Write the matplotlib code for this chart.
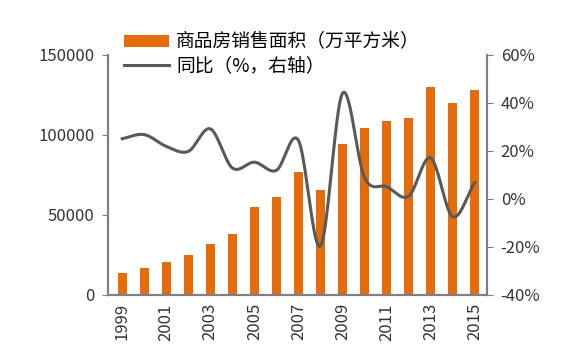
import matplotlib
matplotlib.use('Agg')
import matplotlib.pyplot as plt
import numpy as np

plt.rcParams['font.family'] = ['Noto Sans CJK SC', 'DejaVu Sans']

years = list(range(1999, 2016))
area = [13600, 16900, 20600, 25000, 31900, 38100, 55000, 61300, 76900,
        65600, 94400, 104400, 108900, 110600, 130000, 120000, 128100]
yoy = [25.1, 26.8, 21.9, 19.8, 29.2, 12.9, 15.3, 11.9, 24.4,
       -19.7, 44.0, 8.9, 5.1, 1.1, 17.1, -7.4, 6.8]
xticklabels = [str(y) for y in years[::2]]

bar_label = '商品房销售面积（万平方米）'
line_label = '同比（%，右轴）'


def smooth(x, y, n=20):
    # catmull-rom curve through the points, like excel's smoothed line
    x = np.asarray(x, float)
    y = np.asarray(y, float)
    px = np.concatenate([[2 * x[0] - x[1]], x, [2 * x[-1] - x[-2]]])
    py = np.concatenate([[2 * y[0] - y[1]], y, [2 * y[-1] - y[-2]]])
    xs, ys = [], []
    t = np.linspace(0, 1, n, endpoint=False)
    for i in range(1, len(px) - 2):
        for p, out in ((px, xs), (py, ys)):
            p0, p1, p2, p3 = p[i - 1], p[i], p[i + 1], p[i + 2]
            out.extend(0.5 * (2 * p1 + (-p0 + p2) * t
                              + (2 * p0 - 5 * p1 + 4 * p2 - p3) * t ** 2
                              + (-p0 + 3 * p1 - 3 * p2 + p3) * t ** 3))
    xs.append(x[-1])
    ys.append(y[-1])
    return np.array(xs), np.array(ys)


fig = plt.figure(figsize=(5.7, 3.64), dpi=100)
ax = fig.add_axes([0.19, 0.19, 0.664, 0.659])
ax2 = ax.twinx()

b = ax.bar(years, area, width=0.42, color='#E46C0A', label=bar_label, zorder=2)
sx, sy = smooth(years, yoy)
l, = ax2.plot(sx, sy, color='#595959', lw=2.2, label=line_label, zorder=3)

ax.set_xlim(years[0] - 0.63, years[-1] + 0.55)
ax.set_ylim(0, 150000)
ax.set_yticks([0, 50000, 100000, 150000])
ax2.set_ylim(-40, 60)
ax2.set_yticks([-40, -20, 0, 20, 40, 60])
ax2.set_yticklabels(['%d%%' % v for v in range(-40, 61, 20)])
ax.set_xticks(years[::2])
ax.set_xticklabels(xticklabels, rotation=90)

for a in (ax, ax2):
    a.spines['top'].set_visible(False)
    for s in ('left', 'right', 'bottom'):
        a.spines[s].set_color('#7f7f7f')
        a.spines[s].set_linewidth(1.5)
    a.tick_params(axis='y', length=4, color='#7f7f7f', labelsize=12,
                  labelcolor='#333333', pad=6)
ax.tick_params(axis='x', length=0, labelsize=12, labelcolor='#333333', pad=6)

# line drawn above the bars
ax.set_zorder(0)
ax2.set_zorder(1)
ax2.patch.set_visible(False)

fig.legend([b, l], [bar_label, line_label], loc='upper left',
           bbox_to_anchor=(0.205, 0.935), frameon=False, fontsize=13.5,
           handlelength=2.4, handleheight=0.6, labelspacing=0.15,
           borderaxespad=0, handletextpad=0.35)

fig.savefig('out.png', dpi=100)
